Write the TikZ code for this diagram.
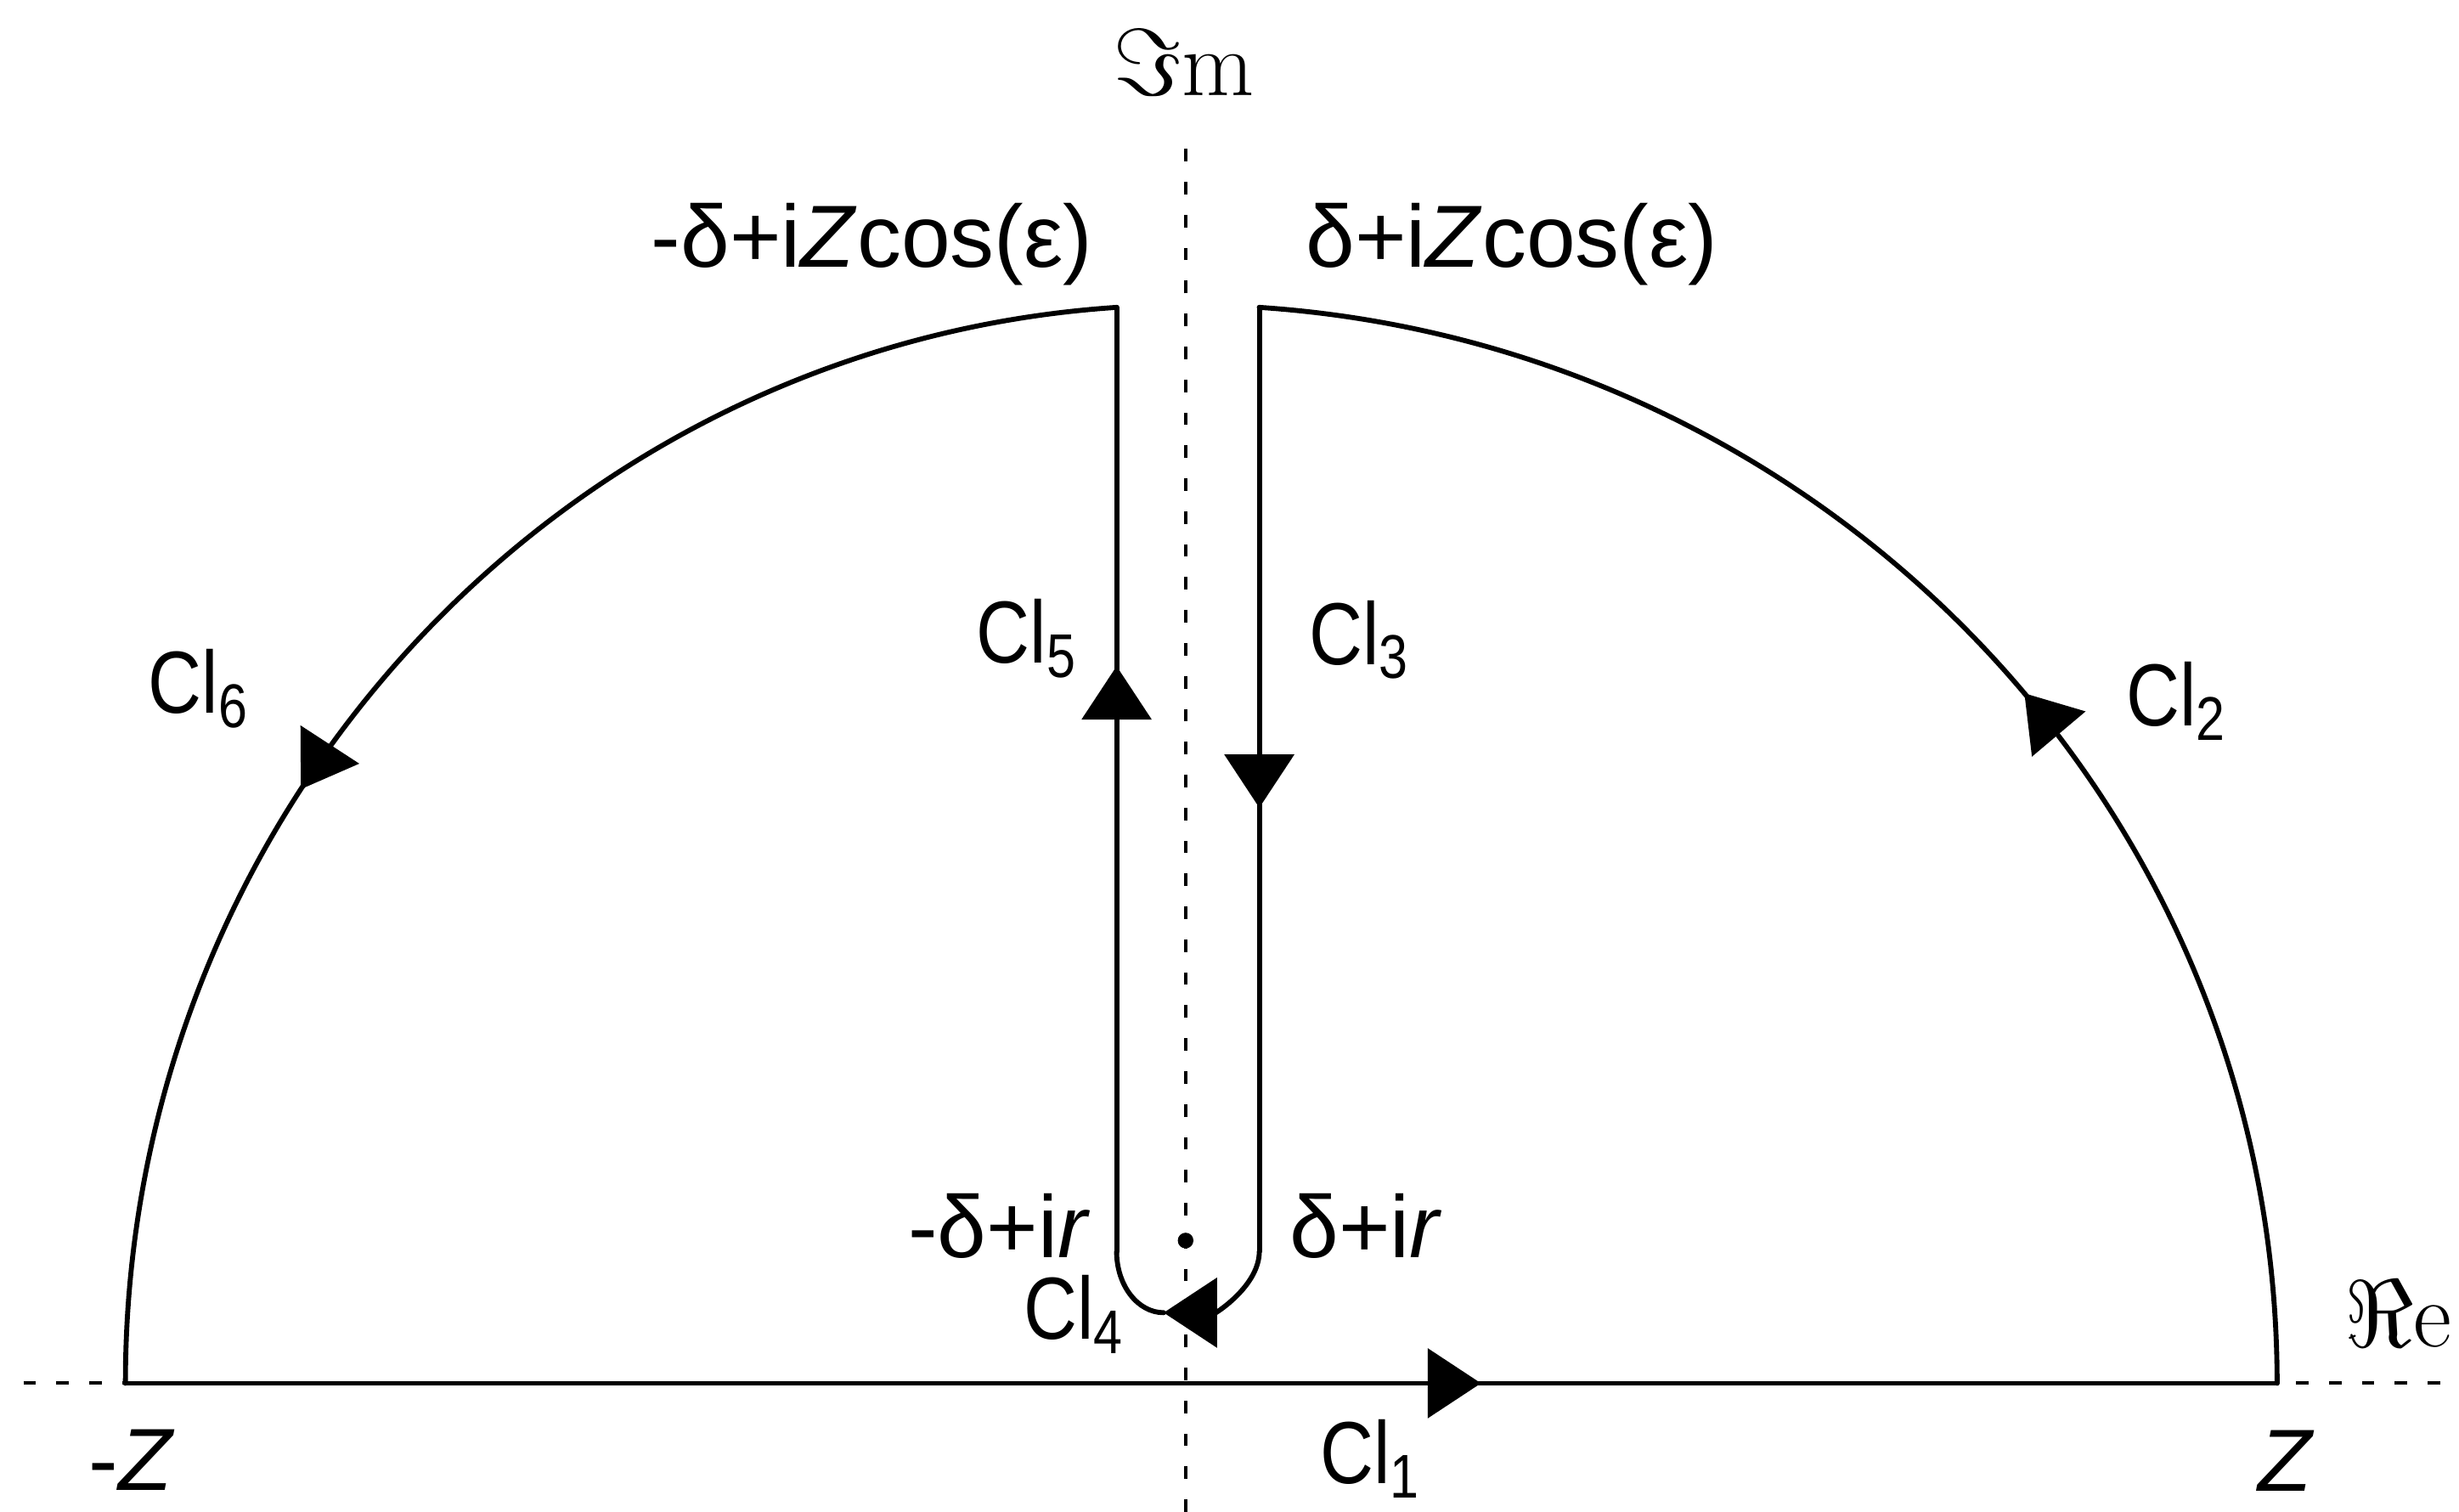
\documentclass[tikz,border=0pt]{standalone}
\usepackage{fontspec}
\usepackage{graphicx}
\usepackage{tikz}
\usetikzlibrary{arrows.meta,decorations.markings}
\newfontfamily\fonterot{Liberation Sans}
\newcommand{\cl}[1]{\scalebox{0.84}[1]{Cl\textsubscript{#1}}}
\tikzset{
  eixo/.style={line width=0.6pt, dash pattern=on 0.8mm off 1.3mm},
  contorno/.style={line width=0.9pt, line cap=round, line join=round},
  seta/.style={postaction={decorate},
               decoration={markings, mark=at position #1 with
                 {\arrow{Triangle[length=3.4mm, width=4.4mm]}}}},
  setafim/.style={-{Triangle[length=3.4mm, width=4.4mm]}},
  rotulo/.style={font=\fonterot\fontsize{16}{18}\selectfont, inner sep=0pt},
  fraktur/.style={font=\fontsize{17}{19}\selectfont, inner sep=0pt},
  ponto/.style={circle, fill, inner sep=0pt, minimum size=1mm},
}

\begin{document}
\begin{tikzpicture}
  \useasboundingbox (0,0) rectangle (15.68,9.64);
  % eixos
  \coordinate (reesq) at (0.15,0.82);
  \coordinate (redir) at (15.62,0.82);
  \coordinate (imbaixo) at (7.56,0);
  \coordinate (imtopo) at (7.56,8.79);
  \draw[eixo] (reesq) -- (redir);
  \draw[eixo] (imbaixo) -- (imtopo);
  % contorno
  \coordinate (mZ) at (0.80,0.82);
  \coordinate (pZ) at (14.52,0.82);
  \coordinate (dtopo) at (8.03,7.68);
  \coordinate (dbase) at (8.03,1.66);
  \coordinate (fundo) at (7.42,1.27);
  \coordinate (ebase) at (7.12,1.66);
  \coordinate (etopo) at (7.12,7.68);
  \draw[contorno, seta=0.63] (mZ) -- (pZ);
  \draw[contorno, seta=0.46] (pZ) arc[start angle=0, end angle=86.13, x radius=6.96, y radius=6.876];
  \draw[contorno, seta=0.53] (dtopo) -- (dbase);
  \draw[contorno, setafim] (dbase) arc[start angle=0, end angle=-90, x radius=0.61, y radius=0.39];
  \draw[contorno] (fundo) arc[start angle=-90, end angle=-180, x radius=0.30, y radius=0.39];
  \draw[contorno, seta=0.62] (ebase) -- (etopo);
  \draw[contorno, seta=0.61] (etopo) arc[start angle=93.73, end angle=180, x radius=6.76, y radius=6.875];
  \node[ponto] (polo) at (7.56,1.73) {};
  % rotulos
  \node[fraktur] (imrot) at (7.55,9.24) {$\Im$m};
  \node[fraktur] (rerot) at (15.29,1.26) {$\Re$e};
  \node[rotulo] (mZrot) at (0.84,0.33) {-\textit{Z}};
  \node[rotulo, anchor=base] (pZrot) at (14.58,0.13) {\textit{Z}};
  \node[rotulo, anchor=base] (cl1) at (8.74,0.18) {\cl{1}};
  \node[rotulo] (cl2) at (13.88,5.17) {\cl{2}};
  \node[rotulo] (cl3) at (8.67,5.56) {\cl{3}};
  \node[rotulo] (cl4) at (6.85,1.26) {\cl{4}};
  \node[rotulo] (cl5) at (6.55,5.57) {\cl{5}};
  \node[rotulo] (cl6) at (1.27,5.25) {\cl{6}};
  \node[rotulo] (etoporot) at (5.56,8.08) {-δ+i\textit{Z}cos(ε)};
  \node[rotulo] (dtoporot) at (9.64,8.08) {δ+i\textit{Z}cos(ε)};
  \node[rotulo] (ebaserot) at (6.37,1.82) {-δ+i\textit{r}};
  \node[rotulo] (dbaserot) at (8.71,1.82) {δ+i\textit{r}};
\end{tikzpicture}
\end{document}
